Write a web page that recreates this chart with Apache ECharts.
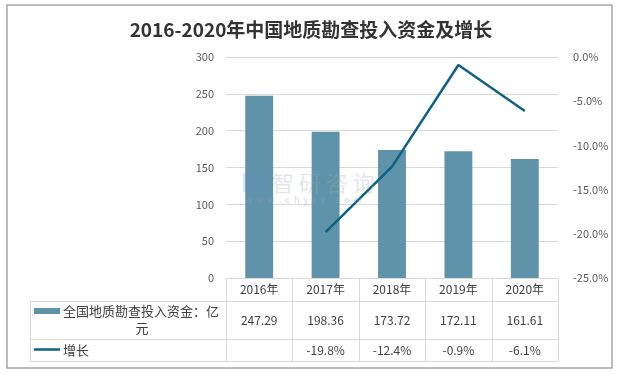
<!DOCTYPE html>
<html><head><meta charset="utf-8">
<script src="https://cdn.jsdelivr.net/npm/echarts@6/dist/echarts.min.js"></script>
<style>html,body{margin:0;padding:0;background:#fff}#c{width:622px;height:375px}</style>
</head><body><div id="c"></div>
<script>
const title = '2016-2020年中国地质勘查投入资金及增长';
const categories = ['2016年','2017年','2018年','2019年','2020年'];
const investName = '全国地质勘查投入资金：亿元';
const investValues = [247.29, 198.36, 173.72, 172.11, 161.61];
const growthName = '增长';
const growthValues = [null, -19.8, -12.4, -0.9, -6.1];
const leftTicks = [0, 50, 100, 150, 200, 250, 300];
const rightTicks = [-25, -20, -15, -10, -5, 0];

const barColor = '#5e93aa';
const lineColor = '#0e6283';
const gridLine = '#d9d9d9';
const textColor = '#404040';
const font = '"Noto Sans CJK SC", "Noto Sans", sans-serif';

const G = {left: 226, right: 558, top: 57, bottom: 278};
const rows = {header: 278, r1: 301, r2: 339, end: 361, tableLeft: 30};

const chart = echarts.init(document.getElementById('c'), null, {renderer: 'canvas'});
const option = {
  animation: false,
  backgroundColor: '#fff',
  title: {
    text: title, left: 'center', top: 15,
    textStyle: {fontFamily: font, fontSize: 19, fontWeight: 'bold', color: '#333333'}
  },
  grid: {left: G.left, right: 622 - G.right, top: G.top, bottom: 375 - G.bottom, containLabel: false},
  xAxis: {
    type: 'category', data: categories,
    axisLine: {show: true, lineStyle: {color: gridLine, width: 1}},
    axisTick: {show: false},
    axisLabel: {fontFamily: font, fontSize: 12, color: textColor, margin: 5}
  },
  yAxis: [
    {
      type: 'value', min: leftTicks[0], max: leftTicks[leftTicks.length - 1], interval: 50,
      axisLine: {show: false}, axisTick: {show: false},
      splitLine: {lineStyle: {color: gridLine, width: 1}},
      axisLabel: {fontFamily: font, fontSize: 11, color: '#595959', margin: 12}
    },
    {
      type: 'value', min: rightTicks[0], max: rightTicks[rightTicks.length - 1], interval: 5,
      axisLine: {show: false}, axisTick: {show: false}, splitLine: {show: false},
      axisLabel: {fontFamily: font, fontSize: 11, color: '#595959', margin: 15,
        formatter: v => v.toFixed(1) + '%'}
    }
  ],
  series: [
    {
      name: investName, type: 'bar', data: investValues, yAxisIndex: 0,
      barWidth: '42%', itemStyle: {color: barColor}
    },
    {
      name: growthName, type: 'line', data: growthValues, yAxisIndex: 1,
      showSymbol: false, symbol: 'none', connectNulls: false,
      lineStyle: {color: lineColor, width: 2.5}, itemStyle: {color: lineColor}, z: 5
    }
  ]
};
chart.setOption(option);

// data table built from the arrays
const n = categories.length;
const band = (G.right - G.left) / n;
const g = [];
const line = (x1, y1, x2, y2) => g.push({type: 'line', silent: true,
  shape: {x1, y1, x2, y2}, style: {stroke: gridLine, lineWidth: 1}});
// outer border
g.push({type: 'rect', shape: {x: 7, y: 5, width: 605, height: 363},
  style: {fill: null, stroke: '#a6a6a6', lineWidth: 1.5}, silent: true});
// vertical lines
for (let i = 0; i <= n; i++) {
  const x = Math.round(G.left + i * band) + 0.5;
  line(x, rows.header, x, rows.end);
}
line(rows.tableLeft + 0.5, rows.r1, rows.tableLeft + 0.5, rows.end);
[rows.r1, rows.r2, rows.end].forEach(y => line(rows.tableLeft, y + 0.5, G.right, y + 0.5));
// values
for (let i = 0; i < n; i++) {
  const cx = G.left + (i + 0.5) * band;
  g.push({type: 'text', silent: true, style: {x: cx, y: (rows.r1 + rows.r2) / 2,
    text: investValues[i].toFixed(2), textAlign: 'center', textVerticalAlign: 'middle',
    font: '12px ' + font, fill: textColor}});
  if (growthValues[i] !== null) {
    g.push({type: 'text', silent: true, style: {x: cx, y: (rows.r2 + rows.end) / 2,
      text: growthValues[i].toFixed(1) + '%', textAlign: 'center', textVerticalAlign: 'middle',
      font: '12px ' + font, fill: textColor}});
  }
}
// legend keys
g.push({type: 'rect', silent: true, shape: {x: 34, y: 308, width: 26, height: 6}, style: {fill: barColor}});
g.push({type: 'text', silent: true, style: {x: 63, y: 311, text: investName.slice(0, -1),
  textVerticalAlign: 'middle', font: '13px ' + font, fill: textColor}});
g.push({type: 'text', silent: true, style: {x: 142, y: 328, text: investName.slice(-1),
  textAlign: 'center', textVerticalAlign: 'middle', font: '13px ' + font, fill: textColor}});
g.push({type: 'line', silent: true, shape: {x1: 34, y1: 349.5, x2: 60, y2: 349.5},
  style: {stroke: lineColor, lineWidth: 2.5}});
g.push({type: 'text', silent: true, style: {x: 63, y: 350, text: growthName,
  textVerticalAlign: 'middle', font: '13px ' + font, fill: textColor}});
// watermark
g.push({type: 'text', silent: true, z: 10, style: {x: 272, y: 183, text: '智 研 咨 询',
  textVerticalAlign: 'middle', font: '22px ' + font, fill: 'rgba(160,168,185,0.3)'}});
g.push({type: 'text', silent: true, z: 10, style: {x: 245, y: 200, text: 'w  w  w  .  c  h  y  x  x  .  c  o  m',
  textVerticalAlign: 'middle', font: '9px ' + font, fill: 'rgba(150,160,180,0.4)'}});
g.push({type: 'rect', silent: true, z: 10, shape: {x: 243, y: 173, width: 22, height: 19},
  style: {fill: 'rgba(110,140,200,0.22)'}});
chart.setOption({graphic: g});
</script></body></html>
